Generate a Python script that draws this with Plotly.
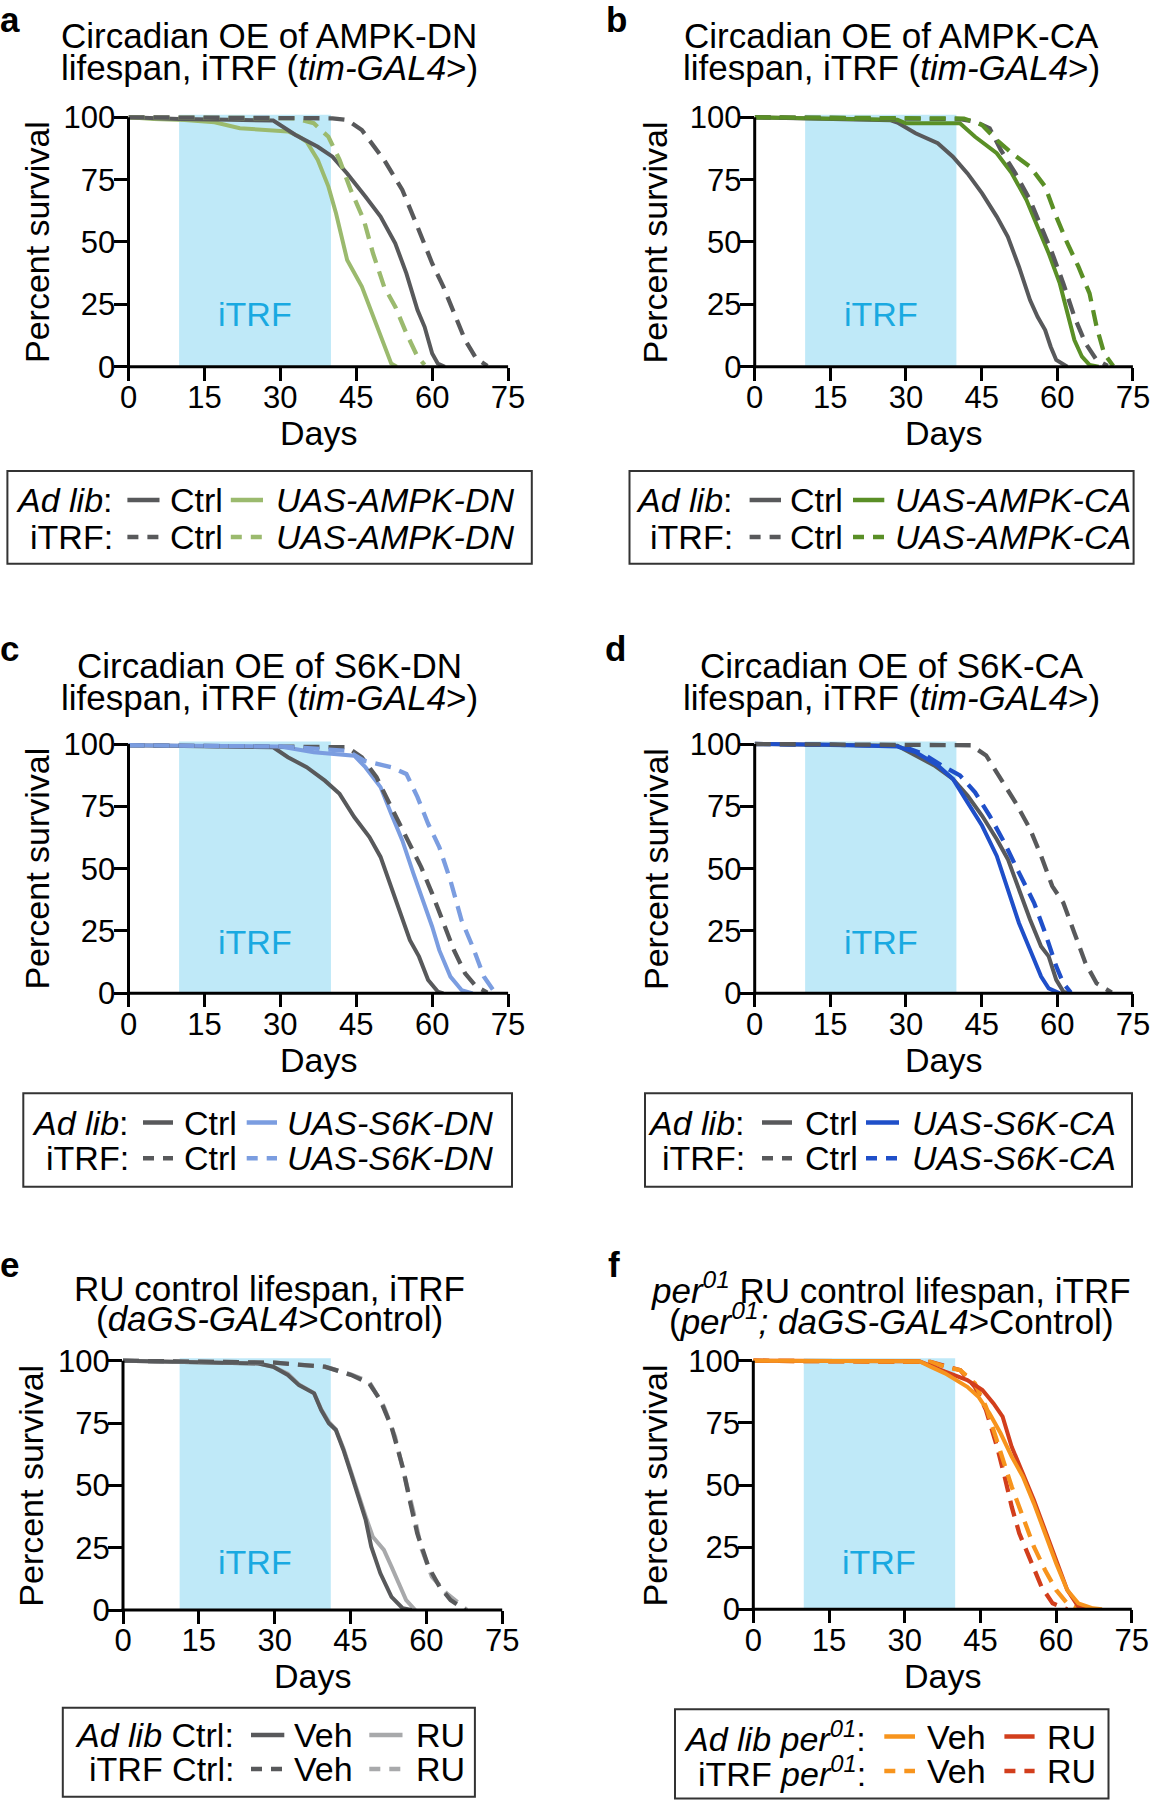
import plotly.graph_objects as go

W, H = 1152, 1800
FONT = "Liberation Sans, Arial, Helvetica, sans-serif"

# ---------------- data: days / percent survival ----------------
# Panel a  (AMPK-DN)
a_ctrl_al_d = [0, 10, 20, 28.6, 33, 37.4, 40.3, 43.2, 46.8, 49.8, 52.7, 54.9, 57.1, 58.5, 60, 61.1, 62.5]
a_ctrl_al_s = [100, 99.3, 99, 98.7, 92.9, 88.2, 84.2, 77.5, 68.2, 60.2, 49.5, 37.4, 22.7, 16, 5.3, 1.3, 0]
a_dn_al_d = [0, 5, 11.1, 17, 22, 28, 31.5, 33.5, 35.2, 37.4, 39.5, 41, 43.2, 46.1, 48.3, 50.5, 51.9, 53]
a_dn_al_s = [100, 99.3, 98.9, 98, 95.6, 95, 94.3, 92.5, 90.2, 82.9, 72.2, 61.5, 42.8, 32.1, 20, 8, 1.3, 0]
a_ctrl_itrf_d = [0, 20, 40.3, 43.2, 46.1, 50.5, 54.1, 57.1, 60, 62.2, 64.3, 66.5, 68.7, 70.9]
a_ctrl_itrf_s = [100, 99.8, 99.6, 98.9, 94.9, 82.9, 70.9, 56.1, 41.4, 32.1, 21.4, 10.7, 3.3, 0.3]
a_dn_itrf_d = [0, 20, 33, 36.6, 39.5, 41.7, 43.9, 46.5, 48.3, 50.5, 52.7, 54.9, 57.1, 58.5]
a_dn_itrf_s = [100, 99.8, 99.6, 97.6, 92.2, 82.9, 70.9, 58.8, 45.5, 32.1, 24.1, 13.4, 4, 0.7]

# Panel b  (AMPK-CA)
b_ctrl_al_d = [0, 15, 27, 28.3, 31.9, 36.3, 39.3, 42.2, 45.1, 48, 50.2, 52.4, 54.6, 56.1, 57.6, 58.7, 59.8, 62]
b_ctrl_al_s = [100, 99.3, 98.8, 97.9, 93.6, 89.6, 84.2, 77.5, 69.5, 60.2, 52.1, 40.1, 26.7, 20, 14.7, 8, 2.7, 0]
b_ca_al_d = [0, 20, 28.3, 30, 40.7, 43.7, 45.1, 48, 51, 53.9, 56.1, 58.3, 60.5, 62, 63.4, 64.9, 66.4, 68.2]
b_ca_al_s = [100, 99.5, 99, 97.6, 97.6, 92.2, 90.2, 85.6, 77.5, 66.8, 56.1, 45.5, 33.4, 21.4, 10.7, 4, 0.7, 0]
b_ctrl_itrf_d = [0, 20, 40.7, 43.7, 46.6, 48.8, 51.7, 54.6, 56.8, 59, 61.2, 63.4, 65.6, 67.8, 70]
b_ctrl_itrf_s = [100, 99.5, 99.3, 98.3, 95.6, 86.9, 77.5, 66.8, 56.1, 45.5, 33.4, 20, 9.4, 2.7, 0.3]
b_ca_itrf_d = [0, 20, 41.5, 45.1, 48, 51, 54.6, 57.6, 59.8, 62, 64.2, 66.4, 67.8, 69.3, 71.1]
b_ca_itrf_s = [100, 99.8, 99.5, 96.9, 90.9, 85.6, 80.2, 72.2, 60.2, 49.5, 40.1, 29.4, 16, 5.3, 0.3]

# Panel c  (S6K-DN)
c_ctrl_al_d = [0, 15, 28.6, 31.5, 35.2, 38.8, 41.7, 44.6, 47.6, 49.8, 51.9, 54.1, 55.6, 57.4, 59.2, 61.1, 62.2]
c_ctrl_al_s = [99.5, 99.2, 98.7, 94.7, 90.7, 85.3, 80, 70.7, 62.7, 54.7, 42.7, 30.7, 21.3, 14.7, 5.3, 0.7, 0]
c_dn_al_d = [0, 20, 30, 36.6, 44.6, 46.8, 49.8, 51.9, 54.1, 56.3, 58.5, 60, 61.4, 63.6, 65.8, 68]
c_dn_al_s = [99.5, 99.3, 99, 96.7, 95.3, 90.7, 82.7, 72, 61.3, 48, 36, 26.7, 17.3, 6.7, 1.3, 0]
c_ctrl_itrf_d = [0, 20, 43.2, 46.1, 49, 51.9, 54.9, 57.8, 60, 62.2, 64.3, 66.5, 68.7, 70.9]
c_ctrl_itrf_s = [99.5, 99.3, 98.7, 94.7, 86.7, 74.7, 62.7, 50.7, 40, 28, 17.3, 8, 2.7, 0.3]
c_dn_itrf_d = [0, 20, 30, 43.2, 46.5, 51.9, 54.9, 57.1, 59.2, 61.4, 63.6, 65.8, 68, 70.2, 72.4]
c_dn_itrf_s = [99.5, 99.3, 99, 97.3, 93.3, 90.7, 88, 78.7, 68, 58.7, 45.3, 29.3, 18.7, 6.7, 0.3]

# Panel d  (S6K-CA)
d_ctrl_al_d = [0, 15, 28.3, 31.9, 35.6, 39.3, 42.2, 45.1, 48, 50.2, 52.4, 54.6, 56.8, 58.3, 59.8, 61.2, 62.3]
d_ctrl_al_s = [100, 99.7, 99.3, 95.4, 91.4, 86, 79.3, 71.2, 61.8, 53.8, 41.7, 29.6, 18.8, 14.8, 5.4, 0.7, 0]
d_ca_al_d = [0, 15, 28.3, 31.9, 36.3, 39.3, 42.2, 45.1, 48, 50.2, 52.4, 54.6, 56.8, 58.3, 60.5]
d_ca_al_s = [100, 99.7, 99, 96.8, 91.4, 86, 76.6, 67.2, 55.1, 41.7, 28.2, 17.5, 6.7, 2, 0]
d_ctrl_itrf_d = [0, 20, 42.9, 45.9, 48.8, 51.7, 54.6, 56.8, 59, 61.2, 63.4, 65.6, 67.8, 70.8]
d_ctrl_itrf_s = [100, 99.7, 99.5, 95.4, 86, 76.6, 65.9, 55.1, 43, 36.3, 24.2, 12.1, 4, 0.3]
d_ca_itrf_d = [0, 15, 29, 33.4, 37.1, 40.7, 43.7, 46.6, 49.5, 52.4, 55.4, 57.6, 59.8, 61.2, 62.7]
d_ca_itrf_s = [100, 99.7, 99.3, 96.1, 91.4, 87.4, 80.6, 71.2, 60.5, 48.4, 36.3, 24.2, 10.8, 4, 0.3]

# Panel e  (RU control)
e_veh_al_d = [0, 15, 26.8, 29.7, 32.6, 34.8, 37.8, 39.2, 40.7, 42.1, 43.6, 45.1, 46.5, 48, 49.1, 50.9, 53.1, 55.3, 57.1]
e_veh_al_s = [100, 99.5, 98.9, 97.6, 94.3, 90.2, 86.9, 80.2, 74.9, 72.2, 64.2, 54.8, 45.5, 36.1, 25.4, 14.7, 5.3, 0.7, 0]
e_ru_al_d = [0, 15, 26.8, 29.7, 32.6, 34.8, 37.8, 39.2, 40.7, 42.1, 43.6, 45.1, 46.5, 48, 49.4, 51.6, 53.1, 54.6, 56, 57.8]
e_ru_al_s = [100, 99.5, 98.9, 97.6, 94.8, 90.5, 87, 80.5, 75.5, 72.5, 64.8, 55.5, 46.5, 37.5, 29.4, 24.1, 17.4, 10.7, 4, 0]
e_veh_itrf_d = [0, 20, 30, 39.9, 45.1, 48.7, 50.9, 53.1, 55.3, 56.7, 58.2, 60.4, 62.6, 64.8, 67.7]
e_veh_itrf_s = [100, 99.6, 99.2, 97.6, 94.3, 90.9, 84.2, 73.5, 57.5, 44.1, 30.7, 17.4, 9.4, 4, 0]
e_ru_itrf_d = [0, 20, 30, 39.9, 45.1, 48.7, 51.6, 53.8, 56, 57.5, 58.9, 61.1, 64, 66.2, 68]
e_ru_itrf_s = [100, 99.6, 99.2, 97.6, 94.5, 91.5, 81.6, 69.5, 52.1, 38.8, 25.4, 13.4, 6.7, 2.7, 0]

# Panel f  (per01 RU control)
f_veh_al_d = [0, 20, 32.9, 35.1, 38, 40.2, 42.4, 44.6, 46.8, 49, 51.2, 53.4, 55.6, 57.8, 60, 62.2, 64.4, 67.3, 69.1]
f_veh_al_s = [100, 100, 99.8, 97.6, 94.9, 92.2, 89.5, 85.5, 78.8, 70.8, 61.4, 53.4, 42.6, 30.6, 18.5, 7.8, 2.4, 0.4, 0]
f_ru_al_d = [0, 20, 32.9, 38, 42.4, 45.4, 47.6, 49.4, 51.2, 53.4, 55.6, 57.8, 60, 62.2, 64.4, 66]
f_ru_al_s = [100, 100, 99.8, 95.6, 92.2, 88.2, 82.8, 77.5, 65.4, 54.7, 44, 31.9, 19.8, 7.8, 1.1, 0]
f_veh_itrf_d = [0, 20, 35.1, 38, 41, 43.9, 46.1, 47.6, 49, 51.2, 53.4, 55.6, 57.8, 60, 62.2, 64.4]
f_veh_itrf_s = [100, 99.6, 99.5, 97.6, 96.2, 90.9, 81.5, 72.1, 62.7, 49.3, 37.3, 25.2, 15.8, 7.8, 2.4, 0.4]
f_ru_itrf_d = [0, 20, 35.1, 41, 43.9, 46.1, 48.3, 49.8, 51.2, 52.7, 54.9, 57.1, 59.3, 62.2]
f_ru_itrf_s = [100, 99.6, 99.5, 96.2, 89.5, 80.2, 65.4, 53.4, 41.3, 30.6, 19.8, 9.1, 2.4, 0]

x_ticks = [0, 15, 30, 45, 60, 75]
y_ticks = [0, 25, 50, 75, 100]
itrf_window = [10, 40]
itrf_window_e = [11.2, 41.1]

# ---------------- styles ----------------
DARK = "#58595B"
LGREY = "#A8A9AB"
LGREEN = "#9BBA6E"
GREEN = "#5A8F26"
LBLUE = "#7B9DE0"
BLUE = "#1F4FC9"
ORANGE = "#F7941D"
RED = "#D23E1C"
SHADE = "#BFE9F8"
ITRF_TXT = "#19A9E1"
DASH = "16px,9px"
LEG_FS = 34


def P(x, y):
    return x / W, 1 - y / H


panels = [
    dict(x0=128.5, x75=508.1, y100=117.3, y0=366.7, shade=itrf_window, itrf=(25, 21),
         curves=[(a_dn_al_d, a_dn_al_s, LGREEN, False), (a_ctrl_al_d, a_ctrl_al_s, DARK, False),
                 (a_dn_itrf_d, a_dn_itrf_s, LGREEN, True), (a_ctrl_itrf_d, a_ctrl_itrf_s, DARK, True)],
         letter=("a", 9.5, 20), title=("Circadian OE of AMPK-DN", "lifespan, iTRF (<i>tim-GAL4</i>&gt;)"),
         tx=269, ty=(35.5, 67), ylab=(37, 242), days=433),
    dict(x0=754.7, x75=1132.9, y100=117.3, y0=366.7, shade=itrf_window, itrf=(25, 21),
         curves=[(b_ctrl_al_d, b_ctrl_al_s, DARK, False), (b_ca_al_d, b_ca_al_s, GREEN, False),
                 (b_ctrl_itrf_d, b_ctrl_itrf_s, DARK, True), (b_ca_itrf_d, b_ca_itrf_s, GREEN, True)],
         letter=("b", 616.5, 20), title=("Circadian OE of AMPK-CA", "lifespan, iTRF (<i>tim-GAL4</i>&gt;)"),
         tx=891.7, ty=(35.5, 67), ylab=(655.4, 242), days=433),
    dict(x0=128.5, x75=508.1, y100=744, y0=993.3, shade=itrf_window, itrf=(25, 20.7),
         curves=[(c_ctrl_al_d, c_ctrl_al_s, DARK, False), (c_dn_al_d, c_dn_al_s, LBLUE, False),
                 (c_ctrl_itrf_d, c_ctrl_itrf_s, DARK, True), (c_dn_itrf_d, c_dn_itrf_s, LBLUE, True)],
         letter=("c", 9.5, 648), title=("Circadian OE of S6K-DN", "lifespan, iTRF (<i>tim-GAL4</i>&gt;)"),
         tx=269.6, ty=(665, 697.5), ylab=(37, 868.6), days=1059.6),
    dict(x0=754.7, x75=1132.9, y100=744, y0=993.3, shade=itrf_window, itrf=(25, 20.7),
         curves=[(d_ctrl_al_d, d_ctrl_al_s, DARK, False), (d_ca_al_d, d_ca_al_s, BLUE, False),
                 (d_ca_itrf_d, d_ca_itrf_s, BLUE, True), (d_ctrl_itrf_d, d_ctrl_itrf_s, DARK, True)],
         letter=("d", 615.7, 648), title=("Circadian OE of S6K-CA", "lifespan, iTRF (<i>tim-GAL4</i>&gt;)"),
         tx=891.7, ty=(665, 697.5), ylab=(655.4, 868.6), days=1059.6),
    dict(x0=123, x75=502.2, y100=1360.7, y0=1610, shade=itrf_window_e, itrf=(26.1, 19.4),
         curves=[(e_ru_al_d, e_ru_al_s, LGREY, False), (e_veh_al_d, e_veh_al_s, DARK, False),
                 (e_ru_itrf_d, e_ru_itrf_s, LGREY, True), (e_veh_itrf_d, e_veh_itrf_s, DARK, True)],
         letter=("e", 9.5, 1264), title=("RU control lifespan, iTRF", "(<i>daGS-GAL4</i>&gt;Control)"),
         tx=269.6, ty=(1288.3, 1318.5), ylab=(31.4, 1485.3), days=1676),
    dict(x0=753.3, x75=1131.8, y100=1360.7, y0=1609.3, shade=itrf_window, itrf=(25, 19.2),
         curves=[(f_ru_itrf_d, f_ru_itrf_s, RED, True), (f_veh_itrf_d, f_veh_itrf_s, ORANGE, True),
                 (f_ru_al_d, f_ru_al_s, RED, False), (f_veh_al_d, f_veh_al_s, ORANGE, False)],
         letter=("f", 613.5, 1264),
         title=("<i>per</i><sup><i>01</i></sup>&nbsp;RU control lifespan, iTRF",
                "(<i>per</i><sup><i>01</i></sup><i>; daGS-GAL4</i>&gt;Control)"),
         tx=891, ty=(1288.3, 1318.5), ylab=(655.4, 1485), days=1675.6),
]

legends = [
    dict(box=(7.4, 471, 531.8, 563.7), rows=(500, 537), lab=114.5, l1=(127.4, 159.5), t1=168,
         l2=(230.8, 263), t2=274, labels=("<i>Ad lib</i>:", "iTRF:"),
         names=("Ctrl", "<i>UAS-AMPK-DN</i>"), colors=(DARK, LGREEN)),
    dict(box=(629.5, 471, 1133.6, 563.7), rows=(500, 537), lab=734.8, l1=(749.6, 781), t1=788.3,
         l2=(853, 884.3), t2=893, labels=("<i>Ad lib</i>:", "iTRF:"),
         names=("Ctrl", "<i>UAS-AMPK-CA</i>"), colors=(DARK, GREEN)),
    dict(box=(23.3, 1093.3, 512, 1186.7), rows=(1122.5, 1158.3), lab=131, l1=(143, 173), t1=182,
         l2=(246.7, 277), t2=285, labels=("<i>Ad lib</i>:", "iTRF:"),
         names=("Ctrl", "<i>UAS-S6K-DN</i>"), colors=(DARK, LBLUE)),
    dict(box=(645, 1093.3, 1132, 1186.7), rows=(1122.5, 1158.3), lab=747, l1=(762, 792), t1=803,
         l2=(866, 899), t2=910, labels=("<i>Ad lib</i>:", "iTRF:"),
         names=("Ctrl", "<i>UAS-S6K-CA</i>"), colors=(DARK, BLUE)),
    dict(box=(62.8, 1707.7, 474.9, 1796.7), rows=(1735, 1769), lab=236.3, l1=(251, 284.3), t1=291.7,
         l2=(369.3, 402.5), t2=413.6, labels=("<i>Ad lib</i> Ctrl:", "iTRF Ctrl:"),
         names=("Veh", "RU"), colors=(DARK, LGREY)),
    dict(box=(675, 1709.3, 1108.5, 1798.5), rows=(1736.5, 1771), lab=867.7, l1=(884.3, 915), t1=925,
         l2=(1004.4, 1034.6), t2=1045,
         labels=("<i>Ad lib per</i><sup><i>01</i></sup>:", "iTRF <i>per</i><sup><i>01</i></sup>:"),
         names=("Veh", "RU"), colors=(ORANGE, RED)),
]

YTOP = 101.6

fig = go.Figure()
shapes = []
annotations = []


def ann(text, x, y, size, xanchor="center", yanchor="middle", angle=0, color="black"):
    px_, py_ = P(x, y)
    annotations.append(dict(text=text, x=px_, y=py_, xref="paper", yref="paper", showarrow=False,
                            xanchor=xanchor, yanchor=yanchor, textangle=angle,
                            font=dict(family=FONT, size=size, color=color)))


def pline(x0, y0, x1, y1, color="black", width=3, dash="solid"):
    a0, b0 = P(x0, y0)
    a1, b1 = P(x1, y1)
    shapes.append(dict(type="line", xref="paper", yref="paper", x0=a0, y0=b0, x1=a1, y1=b1,
                       line=dict(color=color, width=width, dash=dash), layer="above"))


for k, p in enumerate(panels, start=1):
    xs = "" if k == 1 else str(k)
    xref, yref = "x" + xs, "y" + xs
    for d, s, col, dashed in p["curves"]:
        fig.add_trace(go.Scatter(x=d, y=s, mode="lines", xaxis=xref, yaxis=yref, hoverinfo="skip",
                                 showlegend=False,
                                 line=dict(color=col, width=4.3 if dashed else 4,
                                           dash=DASH if dashed else "solid")))
    ytop_px = p["y100"] - (YTOP - 100) * (p["y0"] - p["y100"]) / 100
    fig.layout["xaxis" + xs] = dict(domain=[p["x0"] / W, p["x75"] / W], range=[0, 75], anchor=yref,
                                    tickvals=x_ticks, ticks="outside", ticklen=13, tickwidth=3,
                                    tickcolor="black", showline=False, showgrid=False, zeroline=False,
                                    automargin=False, ticklabelstandoff=-10,
                                    tickfont=dict(family=FONT, size=31, color="black"), fixedrange=True)
    fig.layout["yaxis" + xs] = dict(domain=[1 - p["y0"] / H, 1 - ytop_px / H], range=[0, YTOP],
                                    anchor=xref, tickvals=y_ticks, ticks="outside", ticklen=14,
                                    tickwidth=3, tickcolor="black", showline=False, showgrid=False,
                                    zeroline=False, automargin=False, ticklabelstandoff=-8,
                                    tickfont=dict(family=FONT, size=31, color="black"),
                                    fixedrange=True)
    # iTRF window
    shapes.append(dict(type="rect", xref=xref, yref=yref, x0=p["shade"][0], x1=p["shade"][1],
                       y0=0, y1=101, fillcolor=SHADE, line=dict(width=0), layer="below"))
    annotations.append(dict(text="iTRF", x=p["itrf"][0], y=p["itrf"][1], xref=xref, yref=yref,
                            showarrow=False, font=dict(family=FONT, size=34, color=ITRF_TXT)))
    # axis lines
    pline(p["x0"] - 1.5, p["y0"], p["x75"], p["y0"])
    pline(p["x0"], p["y0"] + 1.5, p["x0"], p["y100"])
    # texts
    letter, lx, ly = p["letter"]
    ann("<b>%s</b>" % letter, lx, ly, 35)
    ann(p["title"][0], p["tx"], p["ty"][0], 35)
    ann(p["title"][1], p["tx"], p["ty"][1], 35)
    ann("Percent survival", p["ylab"][0], p["ylab"][1], 34, angle=-90)
    ann("Days", (p["x0"] + p["x75"]) / 2, p["days"], 34)

for L in legends:
    bx0, by0, bx1, by1 = L["box"]
    a0, b0 = P(bx0, by0)
    a1, b1 = P(bx1, by1)
    shapes.append(dict(type="rect", xref="paper", yref="paper", x0=a0, y0=b0, x1=a1, y1=b1,
                       line=dict(color="#333333", width=2), fillcolor="rgba(0,0,0,0)", layer="above"))
    for r, ry in enumerate(L["rows"]):
        dash = "solid" if r == 0 else "11px,9px"
        ann(L["labels"][r], L["lab"], ry, LEG_FS, xanchor="right")
        pline(L["l1"][0], ry, L["l1"][1], ry, color=L["colors"][0], width=4.5, dash=dash)
        ann(L["names"][0], L["t1"], ry, LEG_FS, xanchor="left")
        pline(L["l2"][0], ry, L["l2"][1], ry, color=L["colors"][1], width=4.5, dash=dash)
        ann(L["names"][1], L["t2"], ry, LEG_FS, xanchor="left")

fig.update_layout(width=W, height=H, margin=dict(l=0, r=0, t=0, b=0, autoexpand=False),
                  paper_bgcolor="white", plot_bgcolor="white", showlegend=False, shapes=shapes,
                  annotations=annotations, font=dict(family=FONT, color="black"))

fig.write_html("out.html", config={"displayModeBar": False, "staticPlot": True},
               post_script="document.body.style.margin='0px';"
                           "document.documentElement.style.overflow='hidden';"
                           "document.body.style.overflow='hidden';")
